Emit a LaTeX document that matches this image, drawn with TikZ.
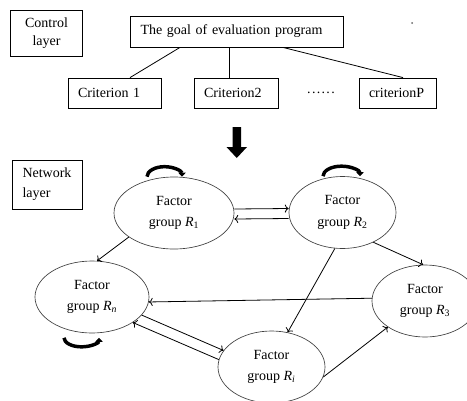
\documentclass[tikz,border=0pt]{standalone}
\usepackage{fontspec}
\setmainfont{Liberation Serif}
\usetikzlibrary{shapes}
\usetikzlibrary{arrows.meta}
\usetikzlibrary{calc}

\tikzset{
  every node/.style={font=\fontsize{10.5}{13.5}\selectfont},
  layerbox/.style={draw, line width=0.6pt, align=#1},
  critbox/.style={draw, line width=0.6pt, text width=#1, align=left, inner xsep=7.5pt, minimum height=22.5pt},
  factor/.style={ellipse, draw=black!75, line width=0.5pt, inner sep=0pt, minimum width=#1, minimum height=54pt, align=center, font=\fontsize{10.5}{16}\selectfont},
  link/.style={->, line width=0.6pt},
  selfloop/.style={line width=2.6pt, -{Triangle[length=3pt,width=5.5pt]}},
}
\newcommand{\fgroup}[1]{Factor\\group \textit{R}\textsubscript{#1}}

\begin{document}
\begin{tikzpicture}[x=0.75pt, y=-0.75pt]
\useasboundingbox (0,0) rectangle (467,400);
\node[layerbox=center, minimum width=54pt, minimum height=34.5pt] (ctrl) at (46.5,33) {Control\\layer};
\node[draw, line width=0.6pt, text width=144pt, align=left, inner xsep=7.875pt, minimum height=23.25pt] (goal) at (236.5,31.5) {The goal of evaluation program};
\node[critbox=54.75pt] (crit1) at (114.5,93) {Criterion 1};
\node[critbox=48pt] (crit2) at (236,93) {Criterion2};
\node (dots) at (321,93) {.\hspace{1pt}.\hspace{1pt}.\hspace{1pt}.\hspace{1pt}.\hspace{1pt}.};
\node[critbox=42.75pt] (critP) at (397.5,93) {criterionP};
\fill[black!60] (412,23) circle[radius=1];
\draw[line width=0.6pt] ($(goal.south)+(-56.5,0)$) -- ($(crit1.north)+(15.5,0)$);
\draw[line width=0.6pt] ($(goal.south)+(-7.5,0)$) -- ($(crit2.north)+(-7,0)$);
\draw[line width=0.6pt] ($(goal.south)+(46.5,0)$) -- ($(critP.north)+(5.5,0)$);
\fill (232.5,127) -- (241,127) -- (241,147) -- (247,147) -- (236.75,158) -- (226.5,147) -- (232.5,147) -- cycle;
\node[layerbox=left, minimum width=52.5pt, minimum height=36.75pt, font=\fontsize{10.5}{15}\selectfont] (net) at (47,184.5) {Network\\layer};
\node[factor=90pt] (R1) at (174,213) {\fgroup{1}};
\node[factor=80.25pt] (R2) at (342.5,212.5) {\fgroup{2}};
\node[factor=85.5pt] (Rn) at (92,297) {\fgroup{\textit{n}}};
\node[factor=79.5pt] (R3) at (425,301) {\fgroup{3}};
\node[factor=80.25pt] (Ri) at (271.5,367) {\fgroup{\textit{i}}};
\draw[link] ([yshift=3pt]R1.east) -- ([yshift=3pt]R2.west);
\draw[link] ([yshift=-4.5pt]R2.west) -- ([yshift=-4.5pt]R1.east);
\draw[link] (R1.208) -- (Rn.82);
\draw[link] (R2.-44) -- (R3.93);
\draw[link] (R2.258) -- (Ri.65);
\draw[link] (R3.177) -- (Rn.-5);
\draw[link] (Rn.-20) -- (Ri.161);
\draw[link] (Ri.172) -- (Rn.-32);
\draw[link] (Ri.-11) -- (R3.215);
\draw[selfloop] ($(R1.north)+(-27,0)$) arc[start angle=180, end angle=360, x radius=17.5, y radius=10];
\draw[selfloop] ($(R2.north)+(-19.5,0)$) arc[start angle=180, end angle=360, x radius=18.5, y radius=10];
\draw[selfloop] ($(Rn.south)+(-28,4.5)$) arc[start angle=180, end angle=0, x radius=17.5, y radius=9];
\end{tikzpicture}
\end{document}
